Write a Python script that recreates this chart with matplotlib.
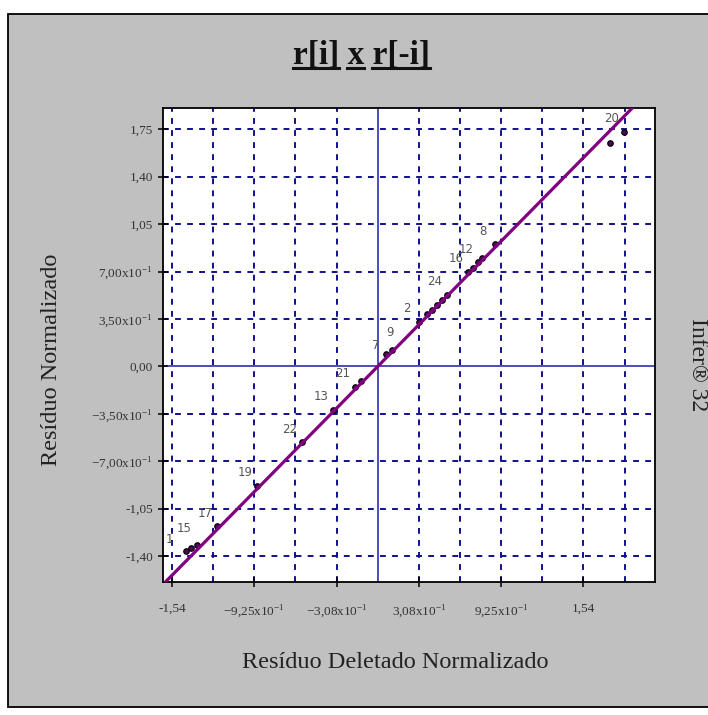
"""Residuo normalizado x residuo deletado normalizado (r[i] x r[-i])."""

import matplotlib
matplotlib.use("Agg")
import matplotlib.pyplot as plt  # noqa: E402
from matplotlib.lines import Line2D  # noqa: E402
from matplotlib.patches import Rectangle  # noqa: E402
import numpy as np  # noqa: E402

# --- data ---
r_del = [-1.437, -1.400, -1.355, -1.207, -0.903, -0.570, -0.333, -0.171, -0.126,
         0.061, 0.106, 0.309, 0.366, 0.404, 0.441, 0.479, 0.516, 0.678, 0.716,
         0.753, 0.781, 0.878, 1.740, 1.845]
r_std = [-1.36, -1.34, -1.32, -1.18, -0.88, -0.56, -0.32, -0.15, -0.11,
         0.09, 0.12, 0.33, 0.39, 0.42, 0.45, 0.49, 0.53, 0.70, 0.73,
         0.77, 0.80, 0.90, 1.651, 1.732]
obs_labels = ["1", "15", "", "17", "19", "22", "13", "21", "", "7", "9", "2",
              "", "", "", "", "24", "16", "", "12", "", "8", "", "20"]
fit_slope, fit_intercept = 1.0, 0.0

x_ticks = [-1.54, -0.925, -0.308, 0.308, 0.925, 1.54]
x_grid = [-1.54, -1.233, -0.925, -0.617, -0.308, 0.308, 0.617, 0.925, 1.233, 1.54, 1.85]
y_ticks = [-1.40, -1.05, -0.70, -0.35, 0.0, 0.35, 0.70, 1.05, 1.40, 1.75]

# label nudges (pixels) where the default offset makes neighbours collide
label_offset = {"1": (-17, 11), "15": (-7, 19), "7": (-10, 9), "9": (-2, 18)}

plt.rcParams["font.family"] = ["Liberation Serif", "DejaVu Serif"]
plt.rcParams["mathtext.fontset"] = "custom"
plt.rcParams["mathtext.rm"] = "Liberation Serif"


def fmt(v):
    if v == 0 or abs(v) >= 1:
        return f"{v:.2f}".replace(".", ",")
    m = f"{v * 10:.2f}".replace(".", "{,}")
    return r"$\mathrm{" + m + r"x10}^{\mathrm{-1}}$"


W, H = 708, 715
fig = plt.figure(figsize=(W / 100, H / 100), dpi=100, facecolor="white")
fig.patches.append(Rectangle((8 / W, 8 / H), 1.0, 1 - 21.5 / H, transform=fig.transFigure,
                             facecolor="#c0c0c0", edgecolor="black", lw=1.3, zorder=-10))

ax = fig.add_axes([163.3 / W, 1 - 581.7 / H, (655 - 163.3) / W, (581.7 - 108.3) / H])
ax.set_facecolor("white")
ax.set_xlim(-1.607, 2.077)
ax.set_ylim(-1.589, 1.905)

grid_c = "#10108a"
for gx in x_grid:
    ax.axvline(gx, color=grid_c, ls=(0, (3, 3.2)), lw=1.4, zorder=1)
for gy in y_ticks:
    if gy != 0:
        ax.axhline(gy, color=grid_c, ls=(0, (3, 3.2)), lw=1.4, zorder=1)
ax.axvline(0, color="#1c1ca8", lw=1.1, zorder=1)
ax.axhline(0, color="#1c1ca8", lw=1.1, zorder=1)

x = np.array(r_del)
y = np.array(r_std)
ax.scatter(x, y, s=16, c="#4a0c50", edgecolors="black", linewidths=0.8, zorder=3)
xl = np.array(ax.get_xlim())
ax.plot(xl, fit_intercept + fit_slope * xl, color="#800080", lw=2.3, zorder=4,
        solid_capstyle="butt")
for xi, yi, lab in zip(x, y, obs_labels):
    if lab:
        ax.annotate(lab, (xi, yi), xytext=label_offset.get(lab, (-12, 13)),
                    textcoords="offset pixels", ha="center", va="center",
                    fontsize=8.5, color="#555555", family=["DejaVu Sans"], zorder=5)

ax.set_xticks(x_ticks)
ax.set_xticklabels([fmt(v) for v in x_ticks])
ax.set_yticks(y_ticks)
ax.set_yticklabels([fmt(v) for v in y_ticks])
ax.tick_params(direction="inout", length=7, width=1.1, labelsize=9.5,
               colors="black", labelcolor="#333333")
ax.tick_params(axis="x", pad=12)
ax.tick_params(axis="y", pad=4)
for sp in ax.spines.values():
    sp.set_linewidth(1.3)

fig.text(52 / W, 1 - 360 / H, "Resíduo Normalizado", rotation=90, ha="center",
         va="center", fontsize=17.5, color="#222222")
fig.text(395 / W, 1 - 662 / H, "Resíduo Deletado Normalizado", ha="center",
         va="center", fontsize=17.5, color="#222222")
fig.text(697 / W, 1 - 365 / H, "Infer® 32", rotation=270, ha="center",
         va="center", fontsize=17, color="#222222")

# --- underlined bold title, one underline per word ---
title_kw = dict(fontsize=24, fontweight="bold", color="#111111")
base_y = 1 - 64 / H
tt = fig.text(361 / W, base_y, "r[i] x r[-i]", ha="center", va="baseline", **title_kw)
rend = fig.canvas.get_renderer()


def width_px(s):
    t = fig.text(0, 0, s, **title_kw)
    w = t.get_window_extent(rend).width
    t.remove()
    return w


bb = tt.get_window_extent(rend)
L, R = bb.x0, bb.x1
segs = [(L, L + width_px("r[i]")),
        (L + width_px("r[i] x") - width_px("x"), L + width_px("r[i] x")),
        (R - width_px("r[-i]"), R)]
uy = base_y - 4 / H
for a, b in segs:
    fig.add_artist(Line2D([a / W, b / W], [uy, uy], transform=fig.transFigure,
                          color="#111111", lw=2.2))

fig.savefig("out.png", dpi=100, facecolor=fig.get_facecolor())
